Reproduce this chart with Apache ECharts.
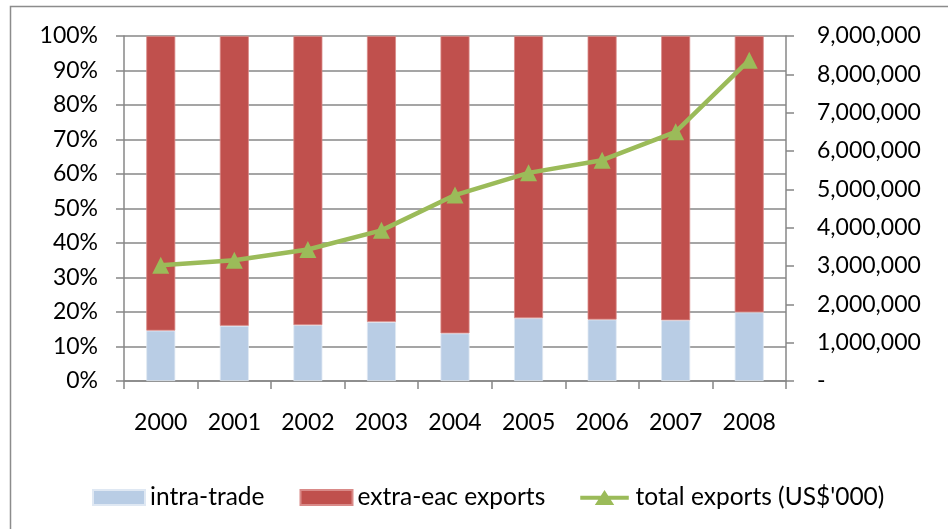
<!DOCTYPE html>
<html>
<head>
<meta charset="utf-8">
<script src="https://cdn.jsdelivr.net/npm/echarts@6/dist/echarts.min.js"></script>
<style>
  html, body { margin: 0; padding: 0; background: #fff; }
  #chart { width: 948px; height: 529px; }
</style>
</head>
<body>
<div id="chart"></div>
<script>
// years on the x axis
var years = ['2000', '2001', '2002', '2003', '2004', '2005', '2006', '2007', '2008'];
// share of exports, percent
var intraTrade = [14.6, 16.0, 16.2, 17.1, 13.8, 18.2, 17.8, 17.6, 19.9];
var extraEac = [85.4, 84.0, 83.8, 82.9, 86.2, 81.8, 82.2, 82.4, 80.1];
// total exports, US$'000
var totalExports = [3020000, 3150000, 3430000, 3930000, 4850000, 5430000, 5760000, 6500000, 8370000];

var chart = echarts.init(document.getElementById('chart'));
var font = 'Lato, "Open Sans", sans-serif';
var gridColor = '#878787';
// line + triangle legend icon, like the spreadsheet one
var lineIcon = 'path://M0,6.5 L23.3,6.5 L27.5,0 L31.7,6.5 L55,6.5 L55,11 L34.6,11 L38.5,17 L16.5,17 L20.4,11 L0,11 Z';

var option = {
  animation: false,
  textStyle: { fontFamily: font, color: '#000' },
  graphic: [{
    type: 'rect',
    shape: { x: 10.5, y: 6.5, width: 1000, height: 600 },
    style: { fill: 'none', stroke: '#8c8c8c', lineWidth: 1.5 },
    silent: true
  }],
  grid: { left: 124, right: 162, top: 36, height: 345 },
  legend: {
    left: 92,
    top: 485,
    padding: 0,
    itemWidth: 52,
    itemHeight: 15,
    itemGap: 35,
    textStyle: { fontFamily: font, fontSize: 24.5, color: '#000' },
    data: [
      { name: 'intra-trade', icon: 'rect' },
      { name: 'extra-eac exports', icon: 'rect' },
      { name: "total exports (US$'000)", icon: lineIcon }
    ]
  },
  xAxis: {
    type: 'category',
    data: years,
    axisLine: { lineStyle: { color: gridColor, width: 1.5 } },
    axisTick: { show: true, length: 8, lineStyle: { color: gridColor, width: 1.5 } },
    axisLabel: { fontFamily: font, fontSize: 23, color: '#000', margin: 30 }
  },
  yAxis: [{
    type: 'value',
    min: 0,
    max: 100,
    interval: 10,
    axisLine: { show: true, lineStyle: { color: gridColor, width: 1.5 } },
    axisTick: { show: true, length: 8, lineStyle: { color: gridColor, width: 1.5 } },
    splitLine: { lineStyle: { color: gridColor, width: 1.5 } },
    axisLabel: { fontFamily: font, fontSize: 23, color: '#000', margin: 26, formatter: '{value}%' }
  }, {
    type: 'value',
    min: 0,
    max: 9000000,
    interval: 1000000,
    position: 'right',
    axisLine: { show: true, lineStyle: { color: gridColor, width: 1.5 } },
    axisTick: { show: true, length: 8, lineStyle: { color: gridColor, width: 1.5 } },
    splitLine: { show: false },
    axisLabel: {
      fontFamily: font, fontSize: 23, color: '#000', margin: 31,
      formatter: function (v) { return v === 0 ? '-' : v.toLocaleString('en-US'); }
    }
  }],
  series: [{
    name: 'intra-trade',
    type: 'bar',
    stack: 'share',
    barWidth: 29,
    data: intraTrade,
    itemStyle: { color: '#B9CDE5', borderColor: '#dfe8f3', borderWidth: 0.8 }
  }, {
    name: 'extra-eac exports',
    type: 'bar',
    stack: 'share',
    barWidth: 29,
    data: extraEac,
    itemStyle: { color: '#C0504D', borderColor: '#d98a88', borderWidth: 0.8 }
  }, {
    name: "total exports (US$'000)",
    type: 'line',
    yAxisIndex: 1,
    data: totalExports,
    symbol: 'triangle',
    symbolSize: 17,
    lineStyle: { color: '#9BBB59', width: 4.5 },
    itemStyle: { color: '#9BBB59' }
  }]
};
chart.setOption(option);
</script>
</body>
</html>
